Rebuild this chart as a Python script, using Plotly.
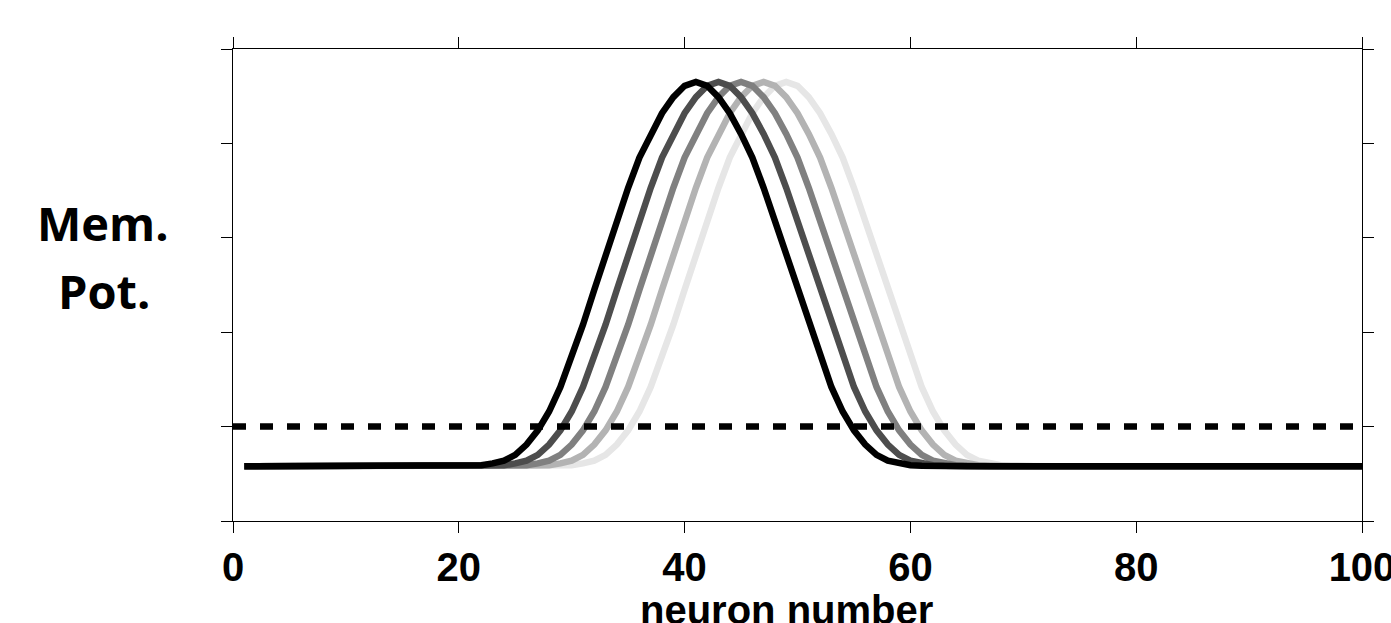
import plotly.graph_objects as go

neurons = list(range(1, 101))

# membrane potential curves, peaks at 41, 43, 45, 47, 49
pot_black = [0.58]*20 + [0.585,0.59,0.61,0.64,0.70,0.81,0.96,1.16,1.42,1.73,2.08,2.45,2.82,3.18,3.53,3.85,4.10,4.32,4.49,4.61,4.65,4.61,4.49,4.32,4.10,3.85,3.53,3.18,2.82,2.45,2.08,1.73,1.42,1.16,0.96,0.81,0.70,0.64,0.61,0.59,0.585] + [0.58]*39
pot_dark = [0.58]*22 + [0.585,0.59,0.61,0.64,0.70,0.81,0.96,1.16,1.42,1.73,2.08,2.45,2.82,3.18,3.53,3.85,4.10,4.32,4.49,4.61,4.65,4.61,4.49,4.32,4.10,3.85,3.53,3.18,2.82,2.45,2.08,1.73,1.42,1.16,0.96,0.81,0.70,0.64,0.61,0.59,0.585] + [0.58]*37
pot_mid = [0.58]*24 + [0.585,0.59,0.61,0.64,0.70,0.81,0.96,1.16,1.42,1.73,2.08,2.45,2.82,3.18,3.53,3.85,4.10,4.32,4.49,4.61,4.65,4.61,4.49,4.32,4.10,3.85,3.53,3.18,2.82,2.45,2.08,1.73,1.42,1.16,0.96,0.81,0.70,0.64,0.61,0.59,0.585] + [0.58]*35
pot_light = [0.58]*26 + [0.585,0.59,0.61,0.64,0.70,0.81,0.96,1.16,1.42,1.73,2.08,2.45,2.82,3.18,3.53,3.85,4.10,4.32,4.49,4.61,4.65,4.61,4.49,4.32,4.10,3.85,3.53,3.18,2.82,2.45,2.08,1.73,1.42,1.16,0.96,0.81,0.70,0.64,0.61,0.59,0.585] + [0.58]*33
pot_faint = [0.58]*28 + [0.585,0.59,0.61,0.64,0.70,0.81,0.96,1.16,1.42,1.73,2.08,2.45,2.82,3.18,3.53,3.85,4.10,4.32,4.49,4.61,4.65,4.61,4.49,4.32,4.10,3.85,3.53,3.18,2.82,2.45,2.08,1.73,1.42,1.16,0.96,0.81,0.70,0.64,0.61,0.59,0.585] + [0.58]*31

threshold_x = [0, 100]
threshold_y = [1.0, 1.0]

x_ticks = [0, 20, 40, 60, 80, 100]
y_ticks = [0, 1, 2, 3, 4, 5]

series = [
    (pot_faint, "#e6e6e6"),
    (pot_light, "#b3b3b3"),
    (pot_mid, "#808080"),
    (pot_dark, "#4d4d4d"),
    (pot_black, "#000000"),
]

fig = go.Figure()
for vals, col in series:
    fig.add_trace(go.Scatter(x=neurons, y=vals, mode="lines",
                             line=dict(color=col, width=6.5), showlegend=False))
fig.add_trace(go.Scatter(x=threshold_x, y=threshold_y, mode="lines",
                         line=dict(color="black", width=6.5, dash="13px,14px"),
                         showlegend=False))

fig.update_layout(
    width=1391, height=623,
    margin=dict(l=233, r=29, t=49, b=102),
    plot_bgcolor="white", paper_bgcolor="white",
    xaxis=dict(range=[0, 100], tickvals=x_ticks, ticktext=[str(v) for v in x_ticks],
               showgrid=False, zeroline=False, showline=True, linecolor="black",
               linewidth=1, mirror="ticks", ticks="outside", ticklen=11,
               tickcolor="black", tickwidth=1, ticklabeloverflow="allow", automargin=False,
               tickfont=dict(family="Liberation Sans", size=40, color="black", weight="bold")),
    yaxis=dict(range=[0, 5], tickvals=y_ticks, showticklabels=False, automargin=False,
               showgrid=False, zeroline=False, showline=True, linecolor="black",
               linewidth=1, mirror="ticks", ticks="outside", ticklen=11,
               tickcolor="black", tickwidth=1),
    annotations=[
        dict(text="<b>neuron number</b>", xref="paper", yref="paper",
             x=(786 - 233) / 1129, y=-(610 - 521) / 472, xanchor="center", yanchor="middle",
             showarrow=False, font=dict(family="Liberation Sans", size=40, color="black")),
        dict(text="<b>Mem.</b>", xref="paper", yref="paper",
             x=-(233 - 103) / 1129, y=(521 - 223) / 472, xanchor="center", yanchor="middle",
             showarrow=False, font=dict(family="Open Sans", size=47, color="black")),
        dict(text="<b>Pot.</b>", xref="paper", yref="paper",
             x=-(233 - 104) / 1129, y=(521 - 291) / 472, xanchor="center", yanchor="middle",
             showarrow=False, font=dict(family="Open Sans", size=47, color="black")),
    ],
)

fig.write_html("out.html")
